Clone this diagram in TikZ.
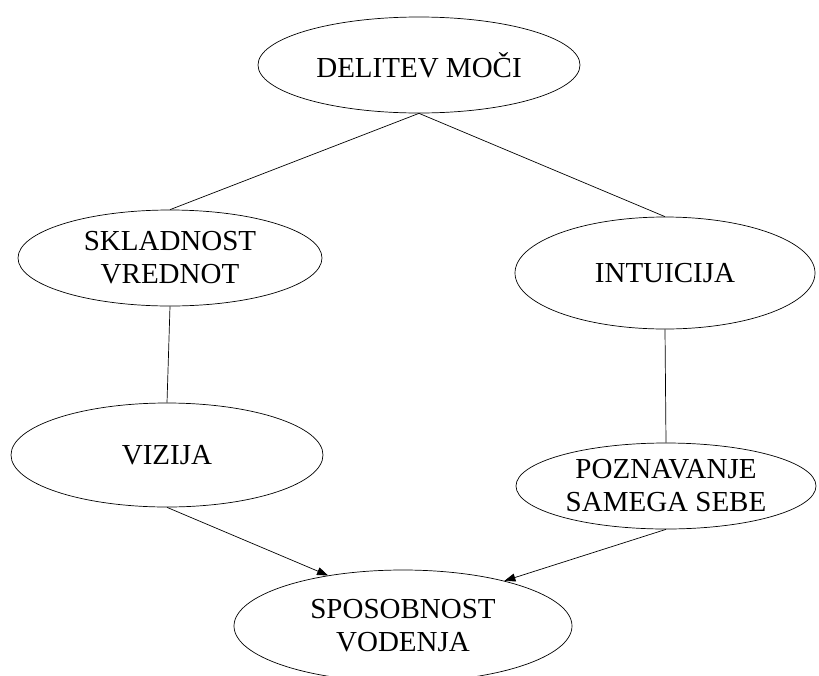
\documentclass[tikz,border=0pt]{standalone}
\usepackage{fontspec}
\setmainfont{Liberation Serif}
\usepackage{tikz}
\usetikzlibrary{positioning}
\usetikzlibrary{shapes.geometric}
\usetikzlibrary{arrows.meta}

\tikzset{
    oval/.style={draw, ellipse, inner sep=0pt, line width=0.7pt, align=center,
        font=\fontsize{29}{33}\selectfont},
    link/.style={line width=0.7pt},
    arrow/.style={line width=0.7pt, -{Triangle[length=11pt, width=8pt]}}
}

\begin{document}
\begin{tikzpicture}[x=1pt, y=-1pt]
    \useasboundingbox (0,0) rectangle (819,675);

    \node [oval, minimum width=322pt, minimum height=96pt] (moc) at (419,65) {DELITEV MO\v{C}I};

    \node [oval, minimum width=304pt, minimum height=96pt] (skladnost) at (170,258) {SKLADNOST\\VREDNOT};
    \node [oval, minimum width=300pt, minimum height=112pt] (intuicija) at (665,273) {INTUICIJA};

    \node [oval, minimum width=312pt, minimum height=104pt] (vizija) at (167,455) {VIZIJA};
    \node [oval, minimum width=300pt, minimum height=86pt] (poznavanje) at (666,486) {POZNAVANJE\\SAMEGA SEBE};

    \node [oval, minimum width=338pt, minimum height=112pt] (vodenje) at (403,626) {SPOSOBNOST\\VODENJA};

    \draw [link] (moc.south) -- (skladnost.north);
    \draw [link] (moc.south) -- (intuicija.north);
    \draw [link] (skladnost.south) -- (vizija.north);
    \draw [link] (intuicija.south) -- (poznavanje.north);

    \draw [arrow] (vizija.south) -- (vodenje.146);
    \draw [arrow] (poznavanje.south) -- (vodenje.24);

\end{tikzpicture}
\end{document}
